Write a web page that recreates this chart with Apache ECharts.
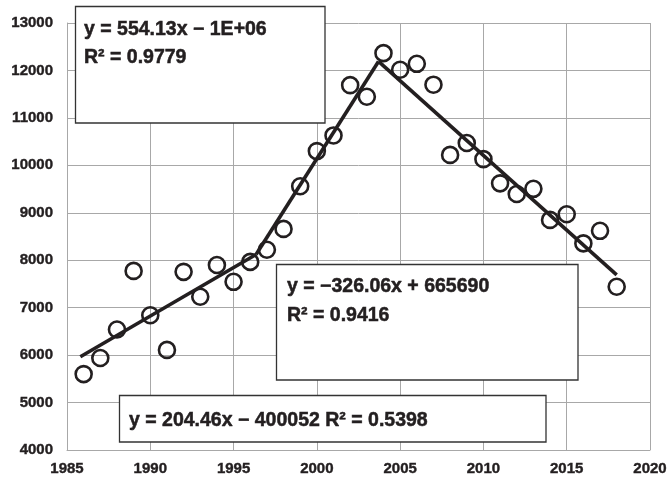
<!DOCTYPE html>
<html>
<head>
<meta charset="utf-8">
<script src="https://cdn.jsdelivr.net/npm/echarts@6/dist/echarts.min.js"></script>
<style>
html,body{margin:0;padding:0;background:#fff;}
#chart{width:667px;height:479px;}
</style>
</head>
<body>
<div id="chart"></div>
<script>
// Observed data (year, value)
var years = [1986,1987,1988,1989,1990,1991,1992,1993,1994,1995,1996,1997,1998,1999,2000,2001,2002,2003,2004,2005,2006,2007,2008,2009,2010,2011,2012,2013,2014,2015,2016,2017,2018];
var values = [5600,5940,6540,7775,6840,6110,7755,7230,7900,7545,7965,8220,8660,9560,10300,10630,11690,11445,12365,12015,12140,11700,10220,10470,10130,9620,9395,9505,8850,8970,8355,8620,7440];

// Piecewise trend lines (x, y endpoints)
var trend1X = [1985.8, 1996.35];
var trend1Y = [5965, 8120];
var trend2X = [1996.35, 2003.7];
var trend2Y = [8120, 12190];
var trend3X = [2003.7, 2018];
var trend3Y = [12190, 7690];

// Trend equation labels
var eq1 = ['y = 554.13x \u2212 1E+06', 'R\u00B2 = 0.9779'];
var eq2 = ['y = \u2212326.06x + 665690', 'R\u00B2 = 0.9416'];
var eq3 = ['y = 204.46x \u2212 400052 R\u00B2 = 0.5398'];

// Axis settings
var xTicks = {min: 1985, max: 2020, interval: 5};
var yTicks = {min: 4000, max: 13000, interval: 1000};

function pairs(xs, ys){ return xs.map(function(x,i){ return [x, ys[i]]; }); }

var INK = '#231f20';
var GRID = '#a8a8a8';
var FONT = '"Liberation Sans", Arial, sans-serif';

var chart = echarts.init(document.getElementById('chart'), null, {renderer: 'canvas'});

function box(x, y, w, h, lines, textX, ys){
  var els = [{
    type: 'rect', z: 100, zlevel: 0,
    shape: {x: x, y: y, width: w, height: h},
    style: {fill: '#ffffff', stroke: '#333', lineWidth: 1.3}
  }];
  lines.forEach(function(t, i){
    els.push({
      type: 'text', z: 101,
      x: textX, y: ys[i],
      style: {text: t, fontFamily: FONT, fontWeight: 'bold', fontSize: 19.5, fill: INK,
              stroke: INK, lineWidth: 0.5, verticalAlign: 'middle', align: 'left'}
    });
  });
  return els;
}

var option = {
  backgroundColor: '#fff',
  animation: false,
  grid: {left: 67, right: 17, top: 23, bottom: 29, containLabel: false, outerBoundsMode: 'none'},
  xAxis: {
    type: 'value', min: xTicks.min, max: xTicks.max, interval: xTicks.interval,
    axisLine: {show: true, lineStyle: {color: GRID, width: 1}},
    axisTick: {show: false},
    splitLine: {show: true, lineStyle: {color: GRID, width: 1}},
    axisLabel: {color: INK, fontFamily: FONT, fontWeight: 'bold', fontSize: 15, margin: 11,
                textBorderColor: INK, textBorderWidth: 0.4,
                formatter: function(v){ return String(v); }}
  },
  yAxis: {
    type: 'value', min: yTicks.min, max: yTicks.max, interval: yTicks.interval,
    axisLine: {show: true, lineStyle: {color: GRID, width: 1}},
    axisTick: {show: false},
    splitLine: {show: true, lineStyle: {color: GRID, width: 1}},
    axisLabel: {color: INK, fontFamily: FONT, fontWeight: 'bold', fontSize: 15, margin: 14,
                textBorderColor: INK, textBorderWidth: 0.4,
                formatter: function(v){ return String(v); }}
  },
  series: [
    {
      type: 'scatter', data: pairs(years, values), symbol: 'circle', symbolSize: 16,
      itemStyle: {color: 'rgba(255,255,255,0)', borderColor: INK, borderWidth: 2.6, opacity: 1},
      z: 3
    },
    {type: 'line', data: pairs(trend1X, trend1Y), symbol: 'none', lineStyle: {color: INK, width: 3.6}, z: 4},
    {type: 'line', data: pairs(trend2X, trend2Y), symbol: 'none', lineStyle: {color: INK, width: 3.6}, z: 4},
    {type: 'line', data: pairs(trend3X, trend3Y), symbol: 'none', lineStyle: {color: INK, width: 3.6}, z: 4}
  ],
  graphic: {
    elements: [].concat(
      box(75.5, 6.5, 249.5, 116.5, eq1, 84, [30, 58]),
      box(276.5, 264.5, 301.5, 115.5, eq2, 287, [287, 316]),
      box(119.5, 395.5, 426.5, 46.5, eq3, 129, [420.5])
    )
  }
};
chart.setOption(option);
</script>
</body>
</html>
